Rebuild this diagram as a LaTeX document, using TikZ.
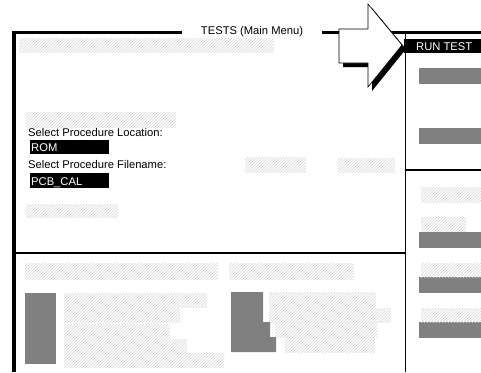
\documentclass[tikz,border=0pt]{standalone}
\usepackage{fontspec}
\setmainfont{Liberation Sans}
\usetikzlibrary{patterns}

\tikzset{
  hatch/.style={pattern=north east lines,pattern color=black!17},
  greybar/.style={fill=black!50},
  selbar/.style={fill=black},
  scrtext/.style={font=\fontsize{11.2}{13}\selectfont,inner sep=0pt,anchor=base west},
}

\begin{document}
\begin{tikzpicture}[x=1pt,y=-1pt]

\useasboundingbox (0,0) rectangle (481,372);

% frame
\draw[line width=3.5pt] (14,372) -- (14,32.5) -- (182,32.5);
\draw[line width=3pt] (322,32.5) -- (481,32.5);
\draw[line width=1.2pt] (405.5,33) -- (405.5,372);
\draw[line width=1.2pt] (14,253) -- (405.5,253);
\draw[line width=1.2pt] (405.5,170) -- (481,170);

\node[scrtext,anchor=base] (title) at (252,34) {TESTS (Main Menu)};

% menu column
\fill[selbar] (404,39) rectangle (481,53);
\node[scrtext,text=white] (runtest) at (416,50) {RUN TEST};

\foreach \y in {68,128,232,277,322} {
  \fill[greybar] (419,\y) rectangle (481,\y+15.5);
}
\fill[hatch] (421,187) rectangle (481,202);
\fill[hatch] (421,217) rectangle (466,231);
\fill[hatch] (421,263) rectangle (481,277);
\fill[hatch] (421,308) rectangle (481,322);

% upper panel
\fill[hatch] (19,38) rectangle (274,52);
\fill[hatch] (26,112) rectangle (176,127);
\fill[hatch] (26,204) rectangle (118,217);
\fill[hatch] (245,157) rectangle (306,172);
\fill[hatch] (338,158) rectangle (395,172);

\node[scrtext] (loclabel) at (28,136) {Select Procedure Location:};
\fill[selbar] (30,140) rectangle (109,154);
\node[scrtext,text=white] (locval) at (31,151) {ROM};
\node[scrtext] (filelabel) at (28,168) {Select Procedure Filename:};
\fill[selbar] (30,173) rectangle (109,188);
\node[scrtext,text=white] (fileval) at (31,185) {PCB\_CAL};

% lower panel
\fill[hatch] (25,263) rectangle (218,279);
\fill[hatch] (229,263) rectangle (354,279);

\fill[greybar] (25,293) rectangle (56,364);
\fill[hatch] (64,293) rectangle (207,307);
\fill[hatch] (64,308) rectangle (180,322);
\fill[hatch] (64,324) rectangle (170,338);
\fill[hatch] (64,339) rectangle (187,353);
\fill[hatch] (64,353) rectangle (224,367);

\fill[greybar] (231,292) -- (263,292) -- (263,322) -- (270,322) -- (270,337) -- (276,337) -- (276,352) -- (231,352) -- cycle;
\fill[hatch] (269,292) rectangle (376,307);
\fill[hatch] (269,308) rectangle (391,322);
\fill[hatch] (275,322) rectangle (377,337);
\fill[hatch] (285,337) rectangle (375,352);

% pointer
\fill (343,33) -- (372,33) -- (372,8) -- (406,49) -- (372,91) -- (372,67) -- (343,67) -- cycle;
\filldraw[fill=white,line width=0.6pt] (339,29) -- (368,29) -- (368,4) -- (402,45) -- (368,87) -- (368,63) -- (339,63) -- cycle;

\end{tikzpicture}
\end{document}
